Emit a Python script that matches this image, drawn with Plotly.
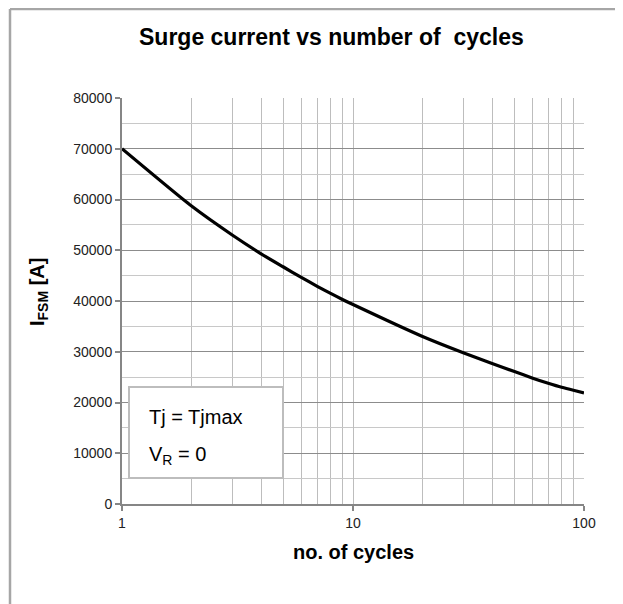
import plotly.graph_objects as go

cycles = [1, 2, 3, 4, 5, 6, 7, 8, 9, 10, 20, 30, 40, 50, 60, 70, 80, 90, 100]
ifsm = [70000, 58700, 53000, 49300, 46700, 44600, 42900, 41500, 40300, 39300,
        33000, 29800, 27700, 26100, 24800, 23800, 23000, 22400, 21900]
x_major = [1, 10, 100]
x_minor = [2, 3, 4, 5, 6, 7, 8, 9, 20, 30, 40, 50, 60, 70, 80, 90]

title_text = "Surge current vs number of\u00a0 cycles"
xtitle = "no. of cycles"
ytitle = "I<sub>FSM</sub> [A]"
note1 = "Tj = Tjmax"
note2 = "V<sub>R</sub> = 0"

O = 8  # default page body margin
W, H = 623 - O, 604 - O
L, R, T, B = 122 - O, 39, 98 - O, 100
pw, ph = W - L - R, H - T - B


def px(x):
    # x given in page pixels
    return (x - O - L) / pw


def py(y):
    return (H - B - (y - O)) / ph


FONT = "Arial, Liberation Sans, sans-serif"

fig = go.Figure()
fig.add_trace(go.Scatter(x=cycles, y=ifsm, mode="lines",
                         line=dict(color="black", width=3.2, shape="spline", smoothing=0.6),
                         showlegend=False))

fig.update_layout(
    width=W, height=H,
    margin=dict(l=L, r=R, t=T, b=B),
    paper_bgcolor="white", plot_bgcolor="white",
    font=dict(family=FONT, size=14, color="#222"),
    showlegend=False,
)
fig.update_xaxes(
    type="log", range=[0, 2],
    tickvals=x_major, ticktext=[str(v) for v in x_major],
    ticks="outside", ticklen=5, tickcolor="#868686", tickwidth=1.5,
    showgrid=True, gridcolor="#bdbdbd", gridwidth=1.4,
    minor=dict(tickvals=x_minor, showgrid=True, gridcolor="#bdbdbd", gridwidth=1.4, ticks=""),
    showline=True, linecolor="#868686", linewidth=2,
    tickfont=dict(size=14, color="#222"),
    zeroline=False,
)
fig.update_yaxes(
    range=[0, 80000], dtick=10000, tick0=0, tickformat="d",
    ticks="outside", ticklen=5, tickcolor="#868686", tickwidth=1.5,
    showgrid=True, gridcolor="#8c8c8c", gridwidth=1.4,
    minor=dict(dtick=5000, showgrid=True, gridcolor="#c8c8c8", gridwidth=1.4, ticks=""),
    showline=True, linecolor="#868686", linewidth=2,
    tickfont=dict(size=14, color="#222"),
    zeroline=False,
)

shapes = [
    dict(type="line", xref="paper", yref="paper", x0=px(10), x1=px(650),
         y0=py(9), y1=py(9), line=dict(color="#a6a6a6", width=2.5)),
    dict(type="line", xref="paper", yref="paper", x0=px(10), x1=px(10),
         y0=py(9), y1=py(640), line=dict(color="#a6a6a6", width=2.5)),
    dict(type="rect", xref="paper", yref="paper", x0=px(129), x1=px(283),
         y0=py(478), y1=py(387), fillcolor="white",
         line=dict(color="#bdbdbd", width=2), layer="above"),
]
fig.update_layout(shapes=shapes)

ann = [
    dict(text="<b>" + title_text + "</b>", x=px(331), y=py(37), xref="paper", yref="paper",
         showarrow=False, xanchor="center", yanchor="middle",
         font=dict(family=FONT, size=23, color="black")),
    dict(text="<b>" + xtitle + "</b>", x=px(353), y=py(552), xref="paper", yref="paper",
         showarrow=False, xanchor="center", yanchor="middle",
         font=dict(family=FONT, size=20, color="black")),
    dict(text="<b>" + ytitle + "</b>", x=px(38), y=py(292), xref="paper", yref="paper",
         showarrow=False, xanchor="center", yanchor="middle", textangle=-90,
         font=dict(family=FONT, size=20, color="black")),
    dict(text=note1, x=px(147), y=py(417), xref="paper", yref="paper",
         showarrow=False, xanchor="left", yanchor="middle",
         font=dict(family=FONT, size=20, color="black")),
    dict(text=note2, x=px(147), y=py(455), xref="paper", yref="paper",
         showarrow=False, xanchor="left", yanchor="middle",
         font=dict(family=FONT, size=20, color="black")),
]
fig.update_layout(annotations=ann)

fig.write_html("out.html")
